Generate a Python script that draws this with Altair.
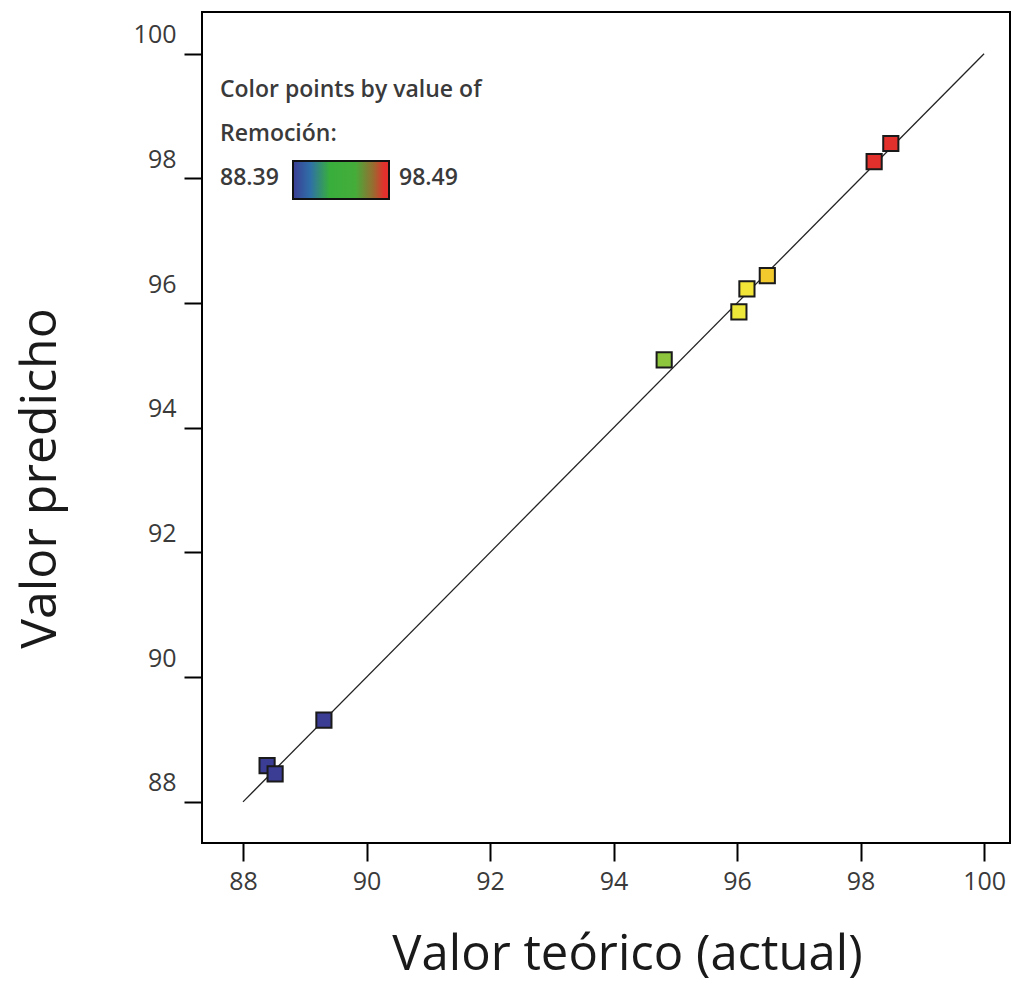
import altair as alt
import pandas as pd

actual = [98.49, 98.22, 96.49, 96.16, 96.03, 94.82, 89.31, 88.39, 88.52]
predicted = [98.56, 98.27, 96.44, 96.23, 95.86, 95.09, 89.31, 88.58, 88.45]
line_x = [88, 100]
line_y = [88, 100]
x_ticks = [88, 90, 92, 94, 96, 98, 100]
y_ticks = [88, 90, 92, 94, 96, 98, 100]
legend_min = 88.39
legend_max = 98.49

pts = pd.DataFrame({"actual": actual, "pred": predicted, "rem": actual})
line_df = pd.DataFrame({"x": line_x, "y": line_y})

xdom = [87.336, 100.42]
ydom = [87.34, 100.67]
FONT = "Open Sans"

xs = alt.Scale(domain=xdom, nice=False, zero=False)
ys = alt.Scale(domain=ydom, nice=False, zero=False)

xaxis = alt.Axis(values=x_ticks, format="d", title="Valor teórico (actual)", grid=False,
                 tickSize=18, tickWidth=2, tickColor="black", domain=False,
                 labelFontSize=25, labelColor="#3a3a3a", labelFont=FONT, labelPadding=8,
                 titleFontSize=49, titleFont=FONT, titleFontWeight="normal",
                 titleColor="#1a1a1a", titlePadding=36, titleX=425)
yaxis = alt.Axis(values=y_ticks, format="d", title="Valor predicho", grid=False,
                 tickSize=18, tickWidth=2, tickColor="black", domain=False,
                 labelFontSize=25, labelColor="#3a3a3a", labelFont=FONT, labelPadding=8,
                 labelBaseline="bottom", labelOffset=-6,
                 titleFontSize=50, titleFont=FONT, titleFontWeight="normal",
                 titleColor="#1a1a1a", titleX=-137, titleY=466)

line = alt.Chart(line_df).mark_line(color="#222222", strokeWidth=1.3).encode(
    x=alt.X("x:Q", scale=xs, axis=xaxis),
    y=alt.Y("y:Q", scale=ys, axis=yaxis),
)

color_scale = alt.Scale(domain=[88.39, 90.0, 93.5, 94.8, 96.1, 96.6, 98.1, 98.49],
                        range=["#3b3d94", "#3b3d94", "#3aa33a", "#8cc43c", "#f3e93a",
                               "#f2c22c", "#e2302c", "#e2302c"])

points = alt.Chart(pts).mark_point(shape="square", filled=True, size=230,
                                   stroke="#1a1a1a", strokeWidth=2, opacity=1).encode(
    x=alt.X("actual:Q", scale=xs),
    y=alt.Y("pred:Q", scale=ys),
    fill=alt.Fill("rem:Q", scale=color_scale, legend=None),
)

def txt(s, x, y):
    return alt.Chart(pd.DataFrame({"t": [s]})).mark_text(
        align="left", baseline="middle", fontSize=23, font=FONT, fontWeight=600,
        color="#3a3a3a").encode(text="t:N", x=alt.value(x), y=alt.value(y))

t1 = txt("Color points by value of", 18, 78)
t2 = txt("Remoción:", 18, 122)
t3 = txt(f"{legend_min:.2f}", 18, 166)
t4 = txt(f"{legend_max:.2f}", 197, 166)

grad = alt.Gradient(gradient="linear", x1=0, y1=0, x2=1, y2=0, stops=[
    alt.GradientStop(color="#3b3d94", offset=0),
    alt.GradientStop(color="#2f6fa8", offset=0.18),
    alt.GradientStop(color="#38ae3c", offset=0.38),
    alt.GradientStop(color="#45ad3a", offset=0.65),
    alt.GradientStop(color="#9a6a30", offset=0.84),
    alt.GradientStop(color="#e3302c", offset=0.95),
    alt.GradientStop(color="#e3302c", offset=1),
])
bar = alt.Chart(pd.DataFrame({"a": [0]})).mark_rect(color=grad, stroke="#111111", strokeWidth=2).encode(
    x=alt.value(91), x2=alt.value(187), y=alt.value(149), y2=alt.value(187))

chart = alt.layer(line, points, t1, t2, t3, t4, bar).properties(
    width=808, height=831,
    autosize=alt.AutoSizeParams(type="none"),
    padding={"left": 202, "top": 12, "right": 2, "bottom": 145},
).configure(background="white").configure_view(stroke="black", strokeWidth=2)

chart.save("out.html", embed_options={"renderer": "svg", "actions": False})
